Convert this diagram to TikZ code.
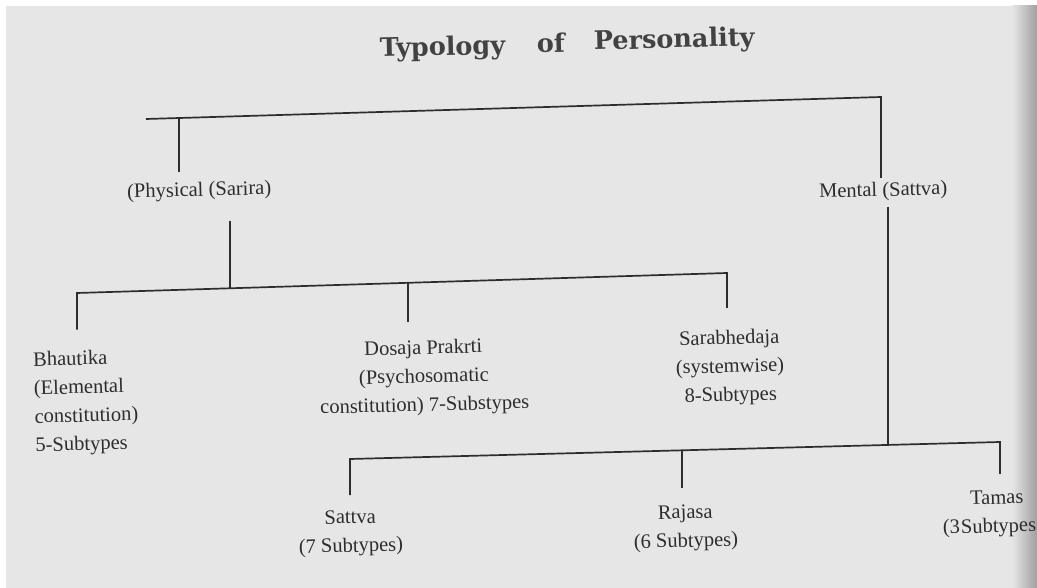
\documentclass[tikz,border=0pt]{standalone}
\usepackage{fontspec}
\setmainfont{Liberation Serif}
\newfontfamily\titlefont{DejaVu Serif}
\definecolor{paper}{RGB}{230,230,230}
\definecolor{ink}{RGB}{45,45,45}
\begin{document}
\begin{tikzpicture}[x=1pt,y=-1pt,
  ln/.style={draw=ink,line width=1.7pt,line join=miter},
  lbl/.style={text=ink,inner sep=0pt,outer sep=0pt,align=center,rotate=1.5,
    font=\fontsize{20.5}{28.5}\selectfont},
  ttl/.style={text=ink!90,inner sep=0pt,rotate=1.5,
    font=\titlefont\bfseries\fontsize{25.5}{30}\selectfont}]
\useasboundingbox (0,0) rectangle (1037,588);
\fill[white] (0,0) rectangle (1037,588);
\fill[paper] (6,6) rectangle (1037,588);
\shade[left color=paper,right color=gray!75] (1012,6) rectangle (1037,588);
\clip (0,0) rectangle (1037,588);
% title
\node[ttl,anchor=base west] (t1) at (380,57) {Typology};
\node[ttl,anchor=base west] (t2) at (537,53) {of};
\node[ttl,anchor=base west] (t3) at (594,50) {Personality};
% labels
\node[lbl,anchor=north] (phys) at (199,182) {(Physical (Sarira)};
\node[lbl,anchor=north] (ment) at (883,182) {Mental (Sattva)};
\node[lbl,anchor=north west,align=left] (bhau) at (33,352) {Bhautika\\(Elemental\\constitution)\\5-Subtypes};
\node[lbl,anchor=north] (dosa) at (423,340) {Dosaja Prakrti\\(Psychosomatic\\constitution) 7-Substypes};
\node[lbl,anchor=north] (sara) at (729,330) {Sarabhedaja\\(systemwise)\\8-Subtypes};
\node[lbl,anchor=north] (satt) at (350,510) {Sattva\\(7 Subtypes)};
\node[lbl,anchor=north] (raja) at (685,505) {Rajasa\\(6 Subtypes)};
\node[lbl,anchor=north west,align=left] (tama) at (942,492) {\hspace*{28pt}Tamas\\(3\kern1pt Subtypes};
% junctions
\coordinate (a1) at (146,119);
\coordinate (a2) at (881,97);
\coordinate (ja) at (179,118);
\coordinate (b1) at (77,293);
\coordinate (b2) at (727,273);
\coordinate (jb) at (230,288);
\coordinate (jb2) at (408,283);
\coordinate (c1) at (350,459);
\coordinate (c2) at (1000,442);
\coordinate (jc) at (888,445);
\coordinate (jc2) at (682,450);
% connectors
\draw[ln,shorten >=4pt] (a1) -- (a2) -- (a2 |- ment.north);
\draw[ln,shorten >=10pt] (ja) -- (ja |- phys.north);
\draw[ln,shorten <=20pt] (jb |- phys.south) -- (jb);
\draw[ln,shorten <=21pt,shorten >=22pt] (b1 |- bhau.north) -- (b1) -- (b2) -- (b2 |- sara.north);
\draw[ln,shorten >=18pt] (jb2) -- (jb2 |- dosa.north);
\draw[ln,shorten <=6pt] (jc |- ment.south) -- (jc);
\draw[ln,shorten <=15pt,shorten >=17pt] (c1 |- satt.north) -- (c1) -- (c2) -- (c2 |- tama.north);
\draw[ln,shorten >=17pt] (jc2) -- (jc2 |- raja.north);
\end{tikzpicture}
\end{document}
